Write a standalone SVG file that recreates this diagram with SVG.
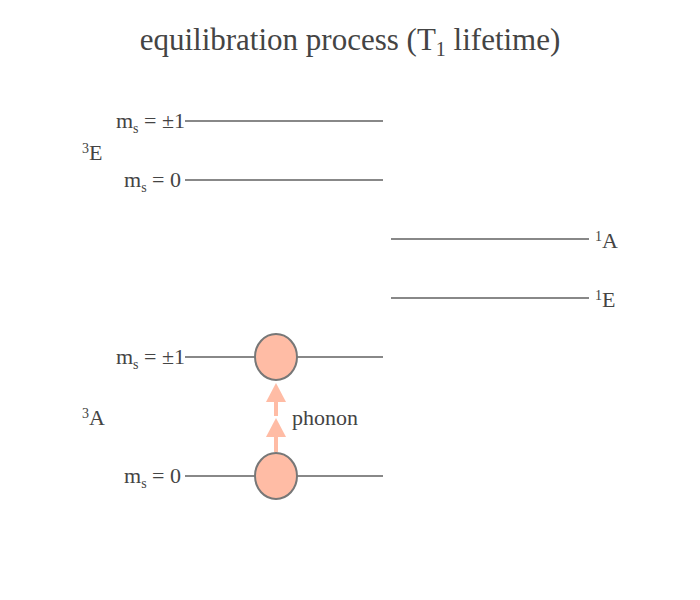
<svg xmlns="http://www.w3.org/2000/svg" width="700" height="600" viewBox="0 0 700 600">
<style>
text{font-family:"Liberation Serif","Times New Roman",serif;fill:#444;font-size:22px}
.title{font-size:31px}
.lvl{stroke:#888;stroke-width:2;fill:none}
.pop{fill:#ffbca5;stroke:#777;stroke-width:2}
.arr{fill:#ffbca5}
</style>
<rect width="700" height="600" fill="#fff"/>
<text class="title" x="350" y="50" text-anchor="middle">equilibration process (T<tspan font-size="20" dy="6">1</tspan><tspan dy="-6"> lifetime)</tspan></text>
<g id="connectors">
<line class="lvl" x1="185" y1="121" x2="383" y2="121"/>
<line class="lvl" x1="185" y1="180" x2="383" y2="180"/>
<line class="lvl" x1="391" y1="239" x2="589" y2="239"/>
<line class="lvl" x1="391" y1="298" x2="589" y2="298"/>
<line class="lvl" x1="185" y1="357" x2="383" y2="357"/>
<line class="lvl" x1="185" y1="476" x2="383" y2="476"/>
</g>
<g id="label-3E-pm1"><text x="185" y="128" text-anchor="end">m<tspan font-size="14" dy="5">s</tspan><tspan dy="-5"> = ±1</tspan></text></g>
<g id="label-3E-0"><text x="181" y="187" text-anchor="end">m<tspan font-size="14" dy="5">s</tspan><tspan dy="-5"> = 0</tspan></text></g>
<g id="label-3E"><text x="82" y="160"><tspan font-size="14" dy="-7">3</tspan><tspan dy="7">E</tspan></text></g>
<g id="label-1A"><text x="595" y="248"><tspan font-size="14" dy="-7">1</tspan><tspan dy="7">A</tspan></text></g>
<g id="label-1E"><text x="595" y="307"><tspan font-size="14" dy="-7">1</tspan><tspan dy="7">E</tspan></text></g>
<g id="label-3A-pm1"><text x="185" y="364" text-anchor="end">m<tspan font-size="14" dy="5">s</tspan><tspan dy="-5"> = ±1</tspan></text></g>
<g id="label-3A-0"><text x="181" y="483" text-anchor="end">m<tspan font-size="14" dy="5">s</tspan><tspan dy="-5"> = 0</tspan></text></g>
<g id="label-3A"><text x="82" y="425"><tspan font-size="14" dy="-7">3</tspan><tspan dy="7">A</tspan></text></g>
<g id="phonon">
<rect class="arr" x="274" y="400" width="4" height="16"/>
<polygon class="arr" points="276,383 286,402 266,402"/>
<rect class="arr" x="274" y="435" width="4" height="17"/>
<polygon class="arr" points="276,418 286,437 266,437"/>
<text x="292" y="425">phonon</text>
</g>
<g id="pop-upper"><ellipse class="pop" cx="276" cy="357" rx="21" ry="23"/></g>
<g id="pop-lower"><ellipse class="pop" cx="276" cy="476" rx="21" ry="23"/></g>
</svg>
